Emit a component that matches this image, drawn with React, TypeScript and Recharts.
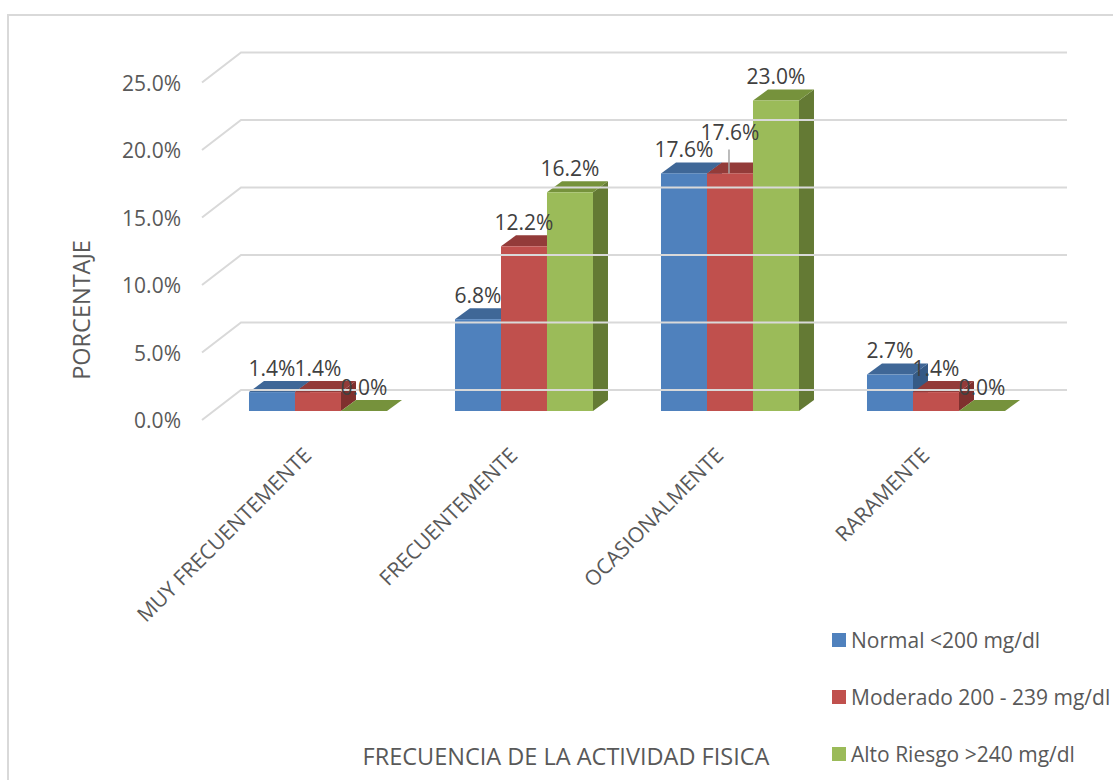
import React from "react";
import { BarChart, Bar, XAxis, YAxis, Legend, LabelList } from "recharts";

const categories = ["MUY FRECUENTEMENTE", "FRECUENTEMENTE", "OCASIONALMENTE", "RARAMENTE"];
const normalValues = [1.4, 6.8, 17.6, 2.7];
const moderadoValues = [1.4, 12.2, 17.6, 1.4];
const altoValues = [0, 16.2, 23.0, 0];
const yTicks = [0, 5, 10, 15, 20, 25];
const rows = categories.map((name, i) => ({
  name,
  normal: normalValues[i],
  moderado: moderadoValues[i],
  alto: altoValues[i],
}));

const FONT = "'Open Sans', sans-serif";
const TEXT = "#595959";
const LABEL = "#404040";
const DX = 15;
const DY = 11;

const Bar3D = (p: any) => {
  const { x, y, width: w, height: h, fill, topFill, sideFill } = p;
  const b = y + h;
  return (
    <g>
      <polygon points={`${x + w},${y} ${x + w + DX},${y - DY} ${x + w + DX},${b - DY} ${x + w},${b}`} fill={sideFill} />
      <polygon points={`${x},${y} ${x + DX},${y - DY} ${x + w + DX},${y - DY} ${x + w},${y}`} fill={topFill} />
      {h > 0 && <rect x={x} y={y} width={w} height={h} fill={fill} />}
    </g>
  );
};

const shapeFor = (topFill: string, sideFill: string) => (p: any) => (
  <Bar3D {...p} topFill={topFill} sideFill={sideFill} />
);

const DataLabel = (lifted: number | null) => (p: any) => {
  const { x, y, width, value, index } = p;
  const cx = x + width / 2;
  const raised = lifted !== null && index === lifted;
  return (
    <g>
      {raised && <line x1={cx - 1} x2={cx - 1} y1={y - 24} y2={y} stroke="#A6A6A6" strokeWidth={1.5} />}
      <text
        x={cx}
        y={y - (raised ? 41.5 : 24.5)}
        textAnchor="middle"
        dominantBaseline="central"
        fontFamily={FONT}
        fontSize={21}
        fill={LABEL}
      >
        {`${Number(value).toFixed(1)}%`}
      </text>
    </g>
  );
};

const YTick = (p: any) => {
  const { y, payload } = p;
  return (
    <g>
      <polyline
        points={`202,${y + 9} 241,${y - 21} 1067,${y - 21}`}
        fill="none"
        stroke="#D9D9D9"
        strokeWidth={2}
      />
      <text x={181} y={y + 9} textAnchor="end" dominantBaseline="central" fontFamily={FONT} fontSize={21} fill={TEXT}>
        {`${payload.value.toFixed(1)}%`}
      </text>
    </g>
  );
};

const XTick = (p: any) => {
  const { x, payload } = p;
  return (
    <text
      transform={`translate(${x - 11},451) rotate(-45)`}
      textAnchor="end"
      dominantBaseline="central"
      fontFamily={FONT}
      fontSize={21}
      fill={TEXT}
    >
      {payload.value}
    </text>
  );
};

const XTitle = () => (
  <text x={566} y={756} textAnchor="middle" dominantBaseline="central" fontFamily={FONT} fontSize={23.5} fill={TEXT}>
    FRECUENCIA DE LA ACTIVIDAD FISICA
  </text>
);

const YTitle = () => (
  <text
    transform="translate(81,310) rotate(-90)"
    textAnchor="middle"
    dominantBaseline="central"
    fontFamily={FONT}
    fontSize={23.5}
    fill={TEXT}
  >
    PORCENTAJE
  </text>
);

const LegendBox = ({ payload }: any) => (
  <div style={{ fontFamily: FONT, fontSize: 21, color: TEXT }}>
    {(payload || []).map((e: any) => (
      <div key={e.value} style={{ display: "flex", alignItems: "center", height: 57, whiteSpace: "nowrap" }}>
        <span style={{ width: 14, height: 14, background: e.color, marginRight: 5, flex: "none" }} />
        {e.value}
      </div>
    ))}
  </div>
);

export default function App() {
  return (
    <div style={{ position: "absolute", left: 0, top: 0, width: 1113, height: 780, overflow: "hidden", background: "#fff" }}>
      <div
        style={{
          position: "absolute",
          left: 7,
          top: 14,
          width: 1200,
          height: 900,
          borderTop: "2px solid #D9D9D9",
          borderLeft: "2px solid #D9D9D9",
        }}
      />
      <div style={{ position: "absolute", left: 0, top: 0 }}>
        <BarChart
          width={1113}
          height={780}
          data={rows}
          margin={{ top: 73.5, right: 74, left: 0, bottom: 0 }}
          barGap={0}
          barCategoryGap="16.5%"
        >
          <YAxis
            width={215}
            domain={[0, 25]}
            ticks={yTicks}
            axisLine={false}
            tickLine={false}
            tick={YTick}
            interval={0}
            label={YTitle}
          />
          <XAxis
            dataKey="name"
            height={369}
            axisLine={false}
            tickLine={false}
            tick={XTick}
            interval={0}
            label={XTitle}
          />
          <Legend
            layout="vertical"
            align="center"
            verticalAlign="middle"
            itemSorter={null}
            wrapperStyle={{ left: 832, top: 611, width: 281 }}
            content={LegendBox}
          />
          <Bar dataKey="normal" name="Normal <200 mg/dl" fill="#4F81BD" isAnimationActive={false} shape={shapeFor("#3F6797", "#355A86")}>
            <LabelList dataKey="normal" content={DataLabel(null)} />
          </Bar>
          <Bar dataKey="moderado" name="Moderado 200 - 239 mg/dl" fill="#C0504D" isAnimationActive={false} shape={shapeFor("#933B39", "#7F302E")}>
            <LabelList dataKey="moderado" content={DataLabel(2)} />
          </Bar>
          <Bar dataKey="alto" name="Alto Riesgo >240 mg/dl" fill="#9BBB59" isAnimationActive={false} shape={shapeFor("#76923C", "#647A34")}>
            <LabelList dataKey="alto" content={DataLabel(null)} />
          </Bar>
        </BarChart>
      </div>
    </div>
  );
}
